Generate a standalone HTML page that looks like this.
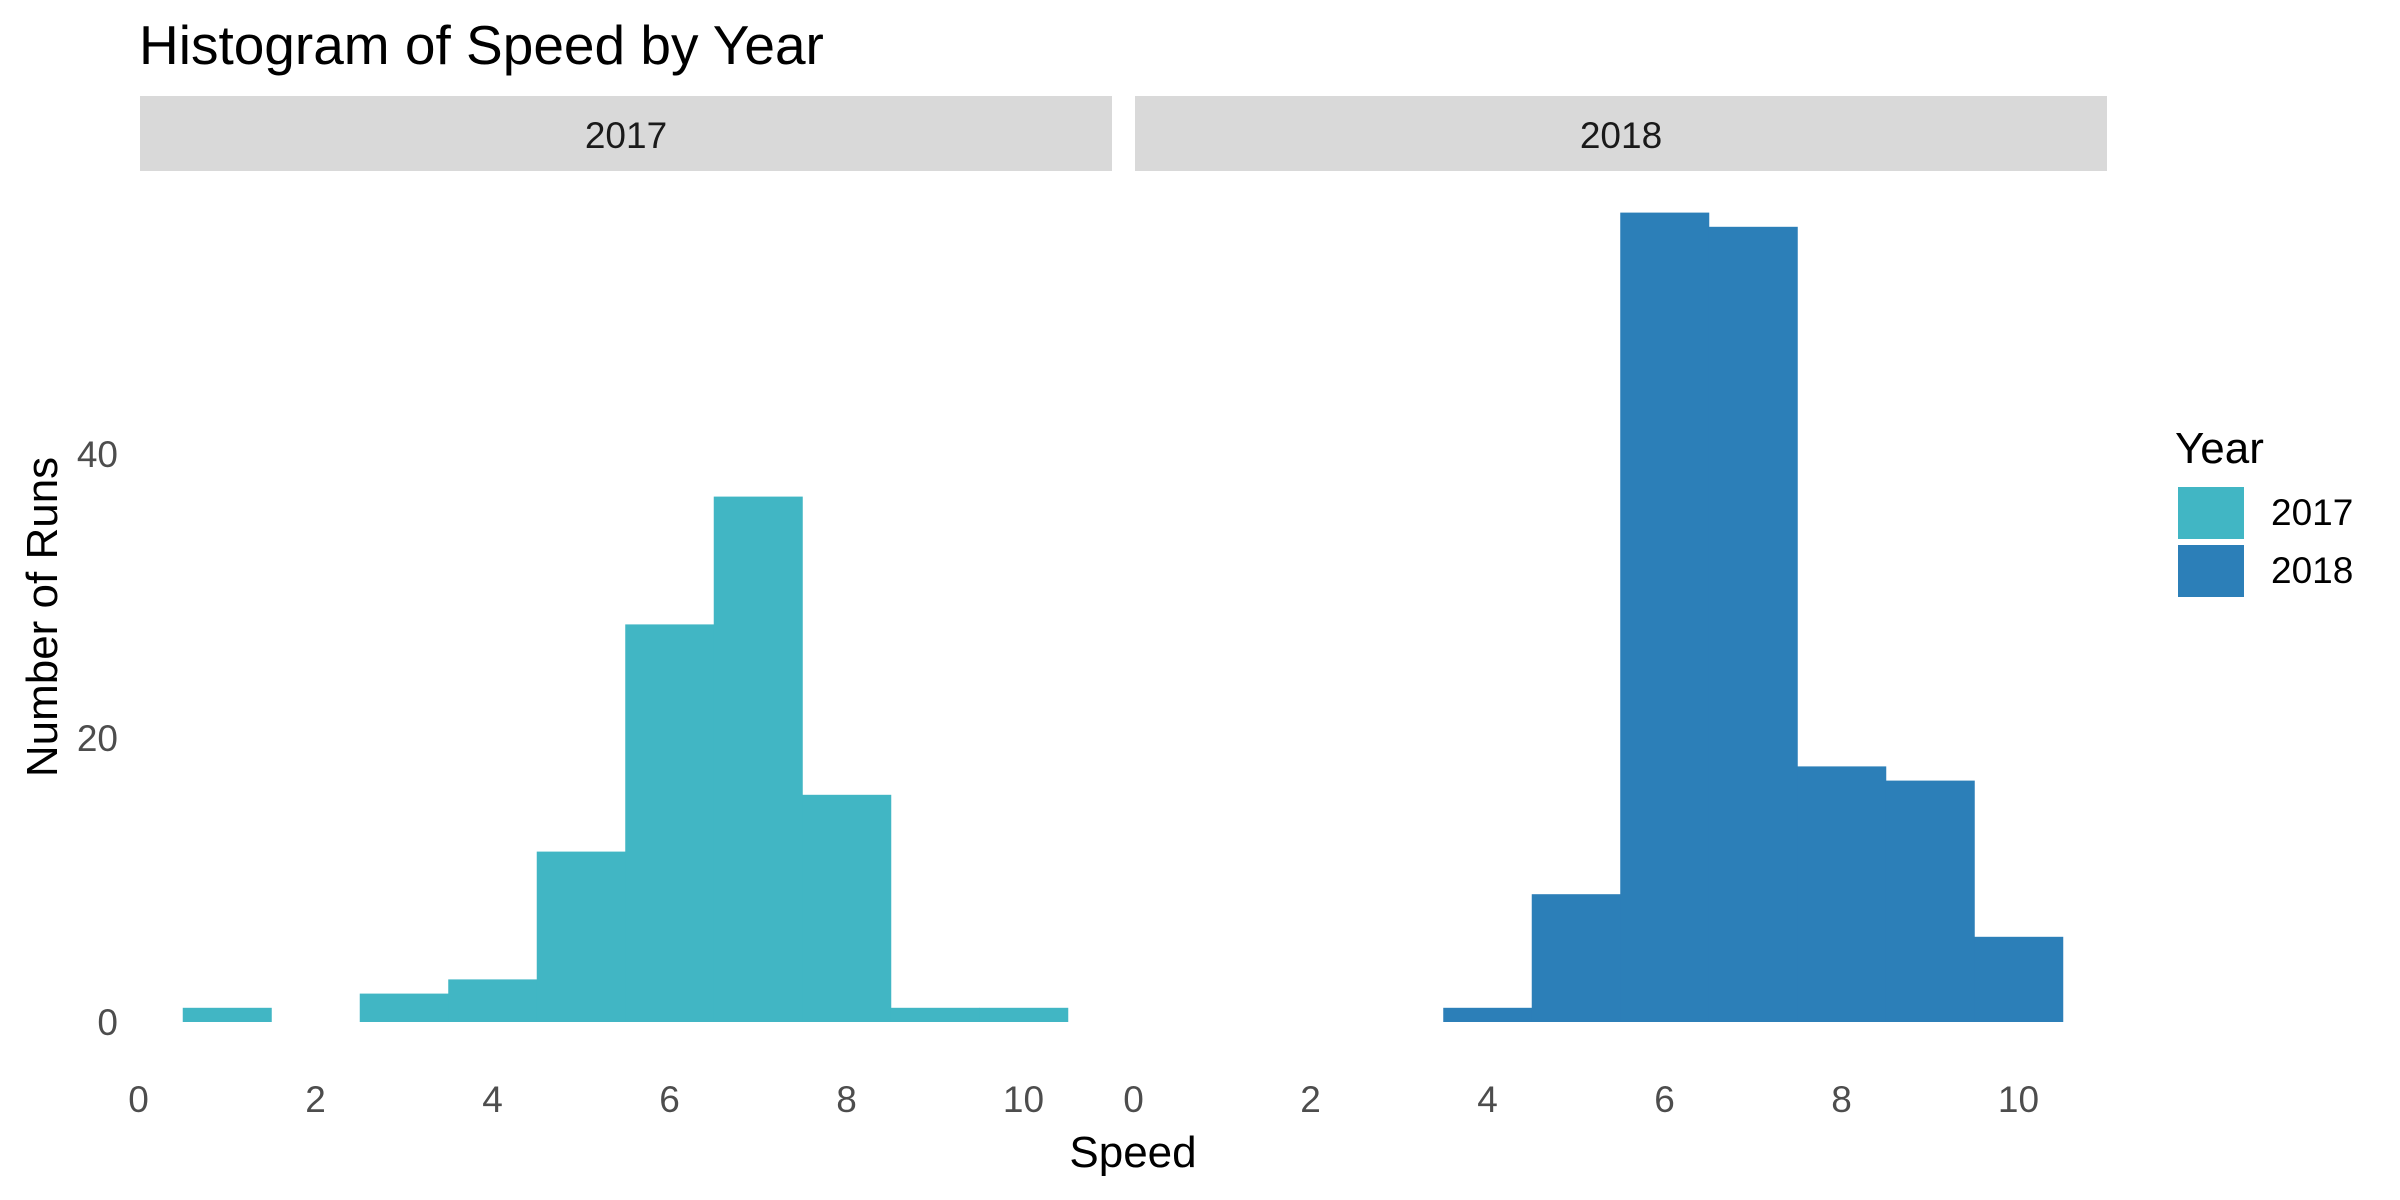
<!DOCTYPE html>
<html><head><meta charset="utf-8"><style>
body{margin:0;background:#fff}
svg{display:block;font-family:"Liberation Sans",Arial,sans-serif}
</style></head><body>
<svg id="chart" width="2400" height="1200" viewBox="0 0 2400 1200">
<text x="139" y="64" font-size="55" fill="#000">Histogram of Speed by Year</text>
<g id="panels"></g>
<text transform="translate(57,617) rotate(-90)" text-anchor="middle" font-size="44" fill="#000">Number of Runs</text>
<text x="1133" y="1167" text-anchor="middle" font-size="44" fill="#000">Speed</text>
<g>
<text x="2175" y="463" font-size="44" fill="#000">Year</text>
<rect x="2178" y="487" width="66" height="52" fill="#41B6C4"/>
<text x="2271" y="525" font-size="37" fill="#000">2017</text>
<rect x="2178" y="545" width="66" height="52" fill="#2C7FB8"/>
<text x="2271" y="583" font-size="37" fill="#000">2018</text>
</g>
</svg>
<script>
const binCenters = [1,2,3,4,5,6,7,8,9,10];
const counts2017 = [1,0,2,3,12,28,37,16,1,1];
const counts2018 = [0,0,0,1,9,57,56,18,17,6];
const xTicks = [0,2,4,6,8,10];
const yTicks = [0,20,40];
const years = ["2017","2018"];
const colors = ["#41B6C4","#2C7FB8"];
const binWidth = 1;

const NS = "http://www.w3.org/2000/svg";
const g = document.getElementById("panels");
const panelLefts = [140,1135];
const panelW = 972;
function xScale(p, v){ return panelLefts[p] - 1.5 + 88.5 * v; }
function yScale(v){ return 1022 - 14.2 * v; }
function mk(tag, attrs){ const e=document.createElementNS(NS,tag); for(const k in attrs) e.setAttribute(k,attrs[k]); return e; }

const series = [counts2017, counts2018];
for (let p=0;p<2;p++){
  const strip = mk("rect",{x:panelLefts[p],y:96,width:panelW,height:75,fill:"#D9D9D9"});
  
  
  g.appendChild(strip);
  const st = mk("text",{x:panelLefts[p]+panelW/2,y:148,"text-anchor":"middle","font-size":37,fill:"#1a1a1a"});
  st.textContent = years[p];
  
  
  g.appendChild(st);
  binCenters.forEach((c,i)=>{
    const v = series[p][i];
    if (v<=0) return;
    const x0 = xScale(p, c-binWidth/2), x1 = xScale(p, c+binWidth/2);
    const r = mk("rect",{x:x0,y:yScale(v),width:x1-x0+0.5,height:yScale(0)-yScale(v),fill:colors[p]});
    
    
    g.appendChild(r);
  });
  xTicks.forEach(t=>{
    const tx = mk("text",{x:xScale(p,t),y:1112,"text-anchor":"middle","font-size":37,fill:"#4D4D4D"});
    tx.textContent = t;
    
    
    g.appendChild(tx);
  });
}
yTicks.forEach(t=>{
  const ty = mk("text",{x:118,y:yScale(t)+13,"text-anchor":"end","font-size":37,fill:"#4D4D4D"});
  ty.textContent = t;
  
  
  g.appendChild(ty);
});
</script>
</body></html>
